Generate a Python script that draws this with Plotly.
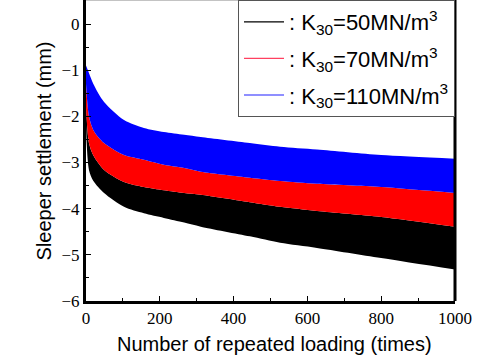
import plotly.graph_objects as go

# Number of repeated loading (times)
n_cycles = [0, 8, 20, 49, 103, 157, 211, 266, 311, 444, 526, 626, 800, 1000]

# Envelopes of the oscillating settlement (mm)
k110_upper = [-0.9, -1.06, -1.30, -1.69, -2.08, -2.25, -2.34, -2.40, -2.45, -2.58, -2.66, -2.72, -2.84, -2.92]
k110_lower = [-1.3, -2.0, -2.3, -2.58, -2.84, -2.94, -3.05, -3.12, -3.20, -3.33, -3.40, -3.46, -3.53, -3.66]
k70_upper = [-1.3, -2.0, -2.3, -2.58, -2.84, -2.94, -3.05, -3.12, -3.20, -3.33, -3.40, -3.46, -3.53, -3.66]
k70_lower = [-1.8, -2.58, -2.85, -3.16, -3.42, -3.53, -3.60, -3.66, -3.70, -3.86, -3.96, -4.05, -4.18, -4.39]
k50_upper = [-1.7, -2.58, -2.85, -3.16, -3.42, -3.53, -3.60, -3.66, -3.70, -3.86, -3.96, -4.05, -4.18, -4.39]
k50_lower = [-2.2, -3.16, -3.40, -3.66, -3.96, -4.10, -4.20, -4.30, -4.39, -4.60, -4.74, -4.85, -5.07, -5.32]

series_names = [": K<sub>30</sub>=50MN/m<sup>3</sup>",
                ": K<sub>30</sub>=70MN/m<sup>3</sup>",
                ": K<sub>30</sub>=110MN/m<sup>3</sup>"]
series_colors = ["black", "red", "blue"]
legend_colors = ["black", "#ff4060", "#2020ff"]

x_ticks = [0, 200, 400, 600, 800, 1000]
y_ticks = [0, -1, -2, -3, -4, -5, -6]

fig = go.Figure()

bands = [(k50_upper, k50_lower), (k70_upper, k70_lower), (k110_upper, k110_lower)]
for (up, lo), col in zip(bands, series_colors):
    fig.add_trace(go.Scatter(
        x=n_cycles, y=lo, mode="lines", line=dict(width=0, color=col, shape="spline", smoothing=0.8),
        showlegend=False, hoverinfo="skip"))
    fig.add_trace(go.Scatter(
        x=n_cycles, y=up, mode="lines", fill="tonexty", fillcolor=col,
        line=dict(width=0, color=col, shape="spline", smoothing=0.8),
        showlegend=False, hoverinfo="skip"))

for i, (name, col) in enumerate(zip(series_names, legend_colors)):
    fig.add_trace(go.Scatter(
        x=[None], y=[None], mode="lines", name=name,
        line=dict(color=col, width=1.2), legendgroup=str(i)))

fig.update_layout(
    width=484, height=358,
    margin=dict(l=86, r=29, t=0, b=57, autoexpand=False),
    paper_bgcolor="white", plot_bgcolor="white",
    legend=dict(x=1, xanchor="right", y=1, yanchor="top",
                bordercolor="#555555", borderwidth=1, bgcolor="white",
                font=dict(family="Liberation Sans", size=22, color="black"),
                tracegroupgap=5, itemwidth=40),
    xaxis=dict(range=[0, 1000], tickvals=x_ticks, ticks="inside", ticklen=5,
               tickwidth=1, tickcolor="black",
               minor=dict(dtick=100, ticks="inside", ticklen=3, tickcolor="black"),
               showline=True, linewidth=3, linecolor="black", showgrid=False,
               zeroline=False, automargin=False,
               tickfont=dict(family="Liberation Serif", size=17, color="black")),
    yaxis=dict(range=[-6, 0.52], tickvals=y_ticks, ticks="inside", ticklen=5,
               tickwidth=1, tickcolor="black",
               minor=dict(dtick=0.5, ticks="inside", ticklen=3, tickcolor="black"),
               showline=True, linewidth=3, linecolor="black", showgrid=False,
               zeroline=False, automargin=False,
               tickfont=dict(family="Liberation Serif", size=17, color="black")),
    annotations=[
        dict(text="Number of repeated loading (times)", xref="paper", yref="paper",
             x=0.51, y=-0.1, xanchor="center", yanchor="top", showarrow=False,
             font=dict(family="Liberation Sans", size=20, color="black")),
        dict(text="Sleeper settlement (mm)", xref="paper", yref="paper",
             x=-0.114, y=0.5, xanchor="center", yanchor="middle", textangle=-90,
             showarrow=False,
             font=dict(family="Liberation Sans", size=20, color="black")),
    ],
)

fig.add_shape(type="line", xref="paper", yref="paper", x0=1, x1=1, y0=0, y1=1,
              line=dict(color="black", width=3))
fig.add_shape(type="line", xref="paper", yref="paper", x0=0, x1=1, y0=1, y1=1,
              line=dict(color="#888888", width=1))

fig.write_html("out.html", config={"displayModeBar": False},
               post_script="document.body.style.margin='0';")
